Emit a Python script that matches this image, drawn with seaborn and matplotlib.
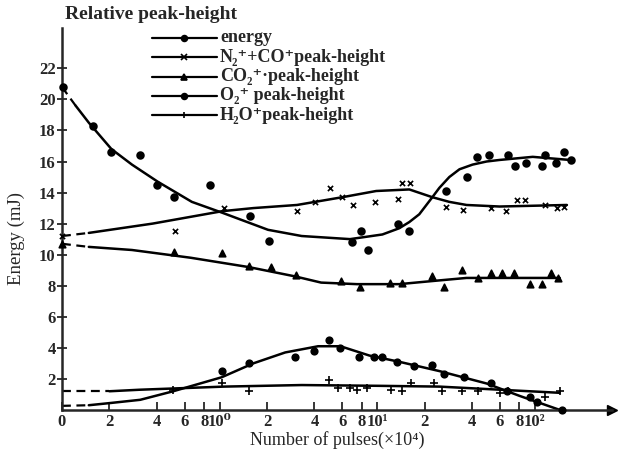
import matplotlib
matplotlib.use("Agg")
import matplotlib.pyplot as plt
import seaborn as sns
import pandas as pd
from matplotlib.lines import Line2D

# values, x in units of 10^4 pulses (log axis, "0" sits at 0.1)
energy_x = [0.1015, 0.157, 0.206, 0.314, 0.399, 0.515, 0.873, 1.57, 2.06, 6.92, 7.86, 8.81,
            13.6, 16.0, 27.5, 37.4, 42.7, 50.9, 67.3, 74.6, 87.7, 111, 117, 136, 153, 170]
energy_y = [20.8, 18.3, 16.6, 16.4, 14.5, 13.7, 14.5, 12.5, 10.9, 10.8, 11.5, 10.3,
            12.0, 11.5, 14.1, 15.0, 16.3, 16.4, 16.4, 15.7, 15.9, 15.7, 16.4, 15.9, 16.6, 16.1]
energy_cx = [0.1, 0.122, 0.148, 0.206, 0.278, 0.405, 0.667, 1.04, 2.03, 3.32, 6.73, 10.8,
             13.8, 16.0, 18.5, 22.4, 24.8, 28.7, 33.3, 40.3, 49.5, 59.8, 97.1, 167]
energy_cy = [20.8, 19.6, 18.5, 16.8, 15.8, 14.7, 13.4, 12.7, 11.6, 11.2, 11.0, 11.3,
             11.7, 12.1, 12.6, 13.7, 14.3, 15.0, 15.5, 15.8, 16.0, 16.1, 16.3, 16.1]

n2_x = [0.1, 0.523, 1.06, 3.10, 4.05, 5.0, 6.01, 7.03, 9.73, 13.6, 14.4, 16.2,
        27.5, 35.3, 52.5, 65.3, 76.8, 86.3, 117, 138, 153]
n2_y = [11.2, 11.5, 13.0, 12.8, 13.4, 14.3, 13.7, 13.2, 13.4, 13.6, 14.6, 14.6,
        13.1, 12.9, 13.0, 12.8, 13.5, 13.5, 13.2, 13.0, 13.1]
n2_cx = [0.1, 0.148, 0.376, 1.04, 1.64, 3.10, 6.01, 9.86, 16.0, 22.4, 28.7, 36.9, 59.8, 160]
n2_cy = [11.2, 11.4, 12.0, 12.8, 13.0, 13.2, 13.7, 14.1, 14.2, 13.7, 13.4, 13.2, 13.1, 13.2]

co2_x = [0.1, 0.515, 1.04, 1.53, 2.12, 3.05, 5.93, 7.76, 12.1, 14.4, 22.4, 26.7,
         34.3, 43.4, 52.5, 61.7, 73.5, 92.9, 111, 126, 140]
co2_y = [10.7, 10.2, 10.1, 9.3, 9.2, 8.7, 8.3, 7.9, 8.2, 8.2, 8.6, 7.9,
         9.0, 8.5, 8.8, 8.8, 8.8, 8.1, 8.1, 8.8, 8.5]
co2_cx = [0.1, 0.148, 0.278, 0.656, 1.53, 3.01, 4.41, 7.43, 13.8, 22.4, 36.9, 144]
co2_cy = [10.7, 10.5, 10.3, 9.8, 9.2, 8.6, 8.2, 8.1, 8.1, 8.3, 8.5, 8.5]

o2_x = [1.03, 1.53, 3.01, 3.99, 4.93, 5.85, 7.64, 9.59, 10.8, 13.4, 17.2, 22.4,
        26.7, 35.8, 52.5, 66.3, 92.9, 104, 149]
o2_y = [2.5, 3.0, 3.4, 3.8, 4.5, 4.0, 3.4, 3.4, 3.4, 3.1, 2.8, 2.9,
        2.3, 2.1, 1.7, 1.2, 0.8, 0.5, 0.0]
o2_cx = [0.1, 0.148, 0.206, 0.314, 0.508, 1.03, 1.64, 2.61, 4.22, 5.85, 8.93, 13.8, 24.8,
         49.5, 80.2, 144]
o2_cy = [0.26, 0.3, 0.45, 0.65, 1.2, 2.1, 3.0, 3.7, 4.1, 4.1, 3.5, 3.1, 2.5, 1.7, 0.9, 0.0]

h2o_x = [0.508, 1.03, 1.53, 4.93, 5.68, 6.73, 7.43, 8.57, 12.3, 14.4, 16.5, 23.1,
         25.9, 34.3, 43.4, 59.8, 67.3, 116, 144]
h2o_y = [1.3, 1.7, 1.2, 1.9, 1.4, 1.4, 1.3, 1.4, 1.3, 1.2, 1.7, 1.7,
         1.2, 1.2, 1.2, 1.1, 1.2, 0.8, 1.2]
h2o_cx = [0.1, 0.2, 0.314, 1.07, 3.32, 10.3, 24.8, 59.8, 144]
h2o_cy = [1.2, 1.2, 1.3, 1.5, 1.6, 1.55, 1.5, 1.3, 1.1]

xticks = [0.1, 0.2, 0.4, 0.6, 0.8, 1, 2, 4, 6, 8, 10, 20, 40, 60, 80, 100]
xticklabels = ["0", "2", "4", "6", "8", "10⁰", "2", "4", "6", "8", "10¹",
               "2", "4", "6", "8", "10²"]
yticks = [2, 4, 6, 8, 10, 12, 14, 16, 18, 20, 22]

sns.set_style("ticks")
plt.rcParams["font.family"] = ["Liberation Serif", "DejaVu Serif"]

fig = plt.figure(figsize=(6.21, 4.59), dpi=100)
ax = fig.add_axes([0.0998, 0.107, 0.886, 0.832])

series = [
    ("energy", energy_x, energy_y, energy_cx, energy_cy, "o", 24),
    ("N₂⁺+CO⁺peak-height", n2_x, n2_y, n2_cx, n2_cy, "x", 14),
    ("CO₂⁺·peak-height", co2_x, co2_y, co2_cx, co2_cy, "^", 22),
    ("O₂⁺ peak-height", o2_x, o2_y, o2_cx, o2_cy, "o", 22),
    ("H₂O⁺peak-height", h2o_x, h2o_y, h2o_cx, h2o_cy, "+", 26),
]

for i, (name, px, py, cx, cy, mk, sz) in enumerate(series):
    curve = pd.DataFrame({"x": cx, "y": cy})
    # first stretch of every fitted curve is drawn dashed
    sns.lineplot(data=curve.iloc[:2], x="x", y="y", ax=ax, color="black",
                 lw=1.6, linestyle=(0, (4, 2.5)), sort=False)
    sns.lineplot(data=curve.iloc[1:], x="x", y="y", ax=ax, color="black",
                 lw=1.8, sort=False)
    pts = pd.DataFrame({"x": px, "y": py})
    sns.scatterplot(data=pts, x="x", y="y", ax=ax, marker=mk, s=sz, color="black",
                    edgecolor="black", linewidth=1.2, zorder=3, clip_on=False)

    # hand-placed legend row, like the printed key
    yc = 1 - (38 + 19.3 * i) / 459
    fig.add_artist(Line2D([152 / 621, 217 / 621], [yc, yc], color="black", lw=1.6,
                          transform=fig.transFigure))
    fig.add_artist(Line2D([184 / 621], [yc], color="black", marker=mk, markersize=4.2,
                          markeredgewidth=1.2, transform=fig.transFigure))
    fig.text(220 / 621, yc, name, fontsize=13, fontweight="bold", ha="left", va="center")

ax.set_xscale("log")
ax.set_xlim(0.1, 310)
ax.set_ylim(0, 24.6)
ax.set_xticks(xticks)
ax.set_xticklabels(xticklabels, fontsize=12, fontweight="bold")
ax.xaxis.set_minor_locator(matplotlib.ticker.NullLocator())
ax.set_yticks(yticks)
ax.set_yticklabels([str(v) for v in yticks], fontsize=12, fontweight="bold")
ax.tick_params(axis="x", direction="in", length=6, width=1.3, pad=3)
ax.tick_params(axis="y", direction="inout", length=7, width=1.3, pad=1)

sns.despine(ax=ax)
for side in ["left", "bottom"]:
    ax.spines[side].set_linewidth(1.8)
ax.plot(1, 0, ">k", markersize=7, transform=ax.transAxes, clip_on=False)

ax.set_xlabel("Number of pulses(×10⁴)", fontsize=13, labelpad=1)
ax.set_ylabel("Energy (mJ)", fontsize=13.5, labelpad=4)
ax.yaxis.set_label_coords(-0.068, 0.45)
fig.text(0.105, 0.968, "Relative peak-height", fontsize=14, fontweight="bold",
         ha="left", va="center")

fig.savefig("out.png", dpi=100)
